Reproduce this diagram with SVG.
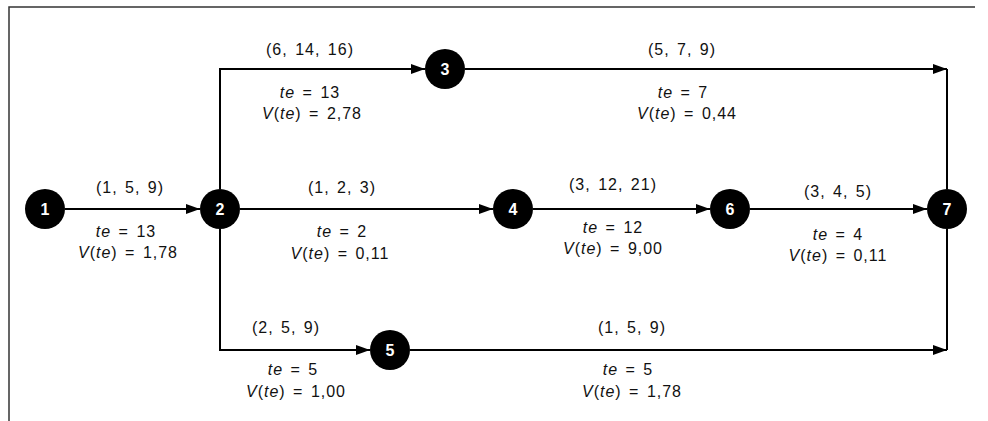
<svg xmlns="http://www.w3.org/2000/svg" width="988" height="421" viewBox="0 0 988 421">
<style>
.frame{stroke:#333;stroke-width:1.5;fill:none}
.edge{stroke:#000;stroke-width:2;fill:none}
.node circle{fill:#000}
.node text{fill:#fff;font-family:"Liberation Sans",Arial,sans-serif;font-size:16px;font-weight:bold;text-anchor:middle}
.lbl{fill:#111;font-family:"Liberation Sans",Arial,sans-serif;font-size:16px;letter-spacing:1px;word-spacing:2px;text-anchor:middle}
.i{font-style:italic}
</style>
<defs>
<marker id="ah" viewBox="0 0 14 10" refX="14" refY="5" markerWidth="14" markerHeight="10" markerUnits="userSpaceOnUse" orient="auto">
<path d="M0,0 L14,5 L0,10 Z" fill="#000"/>
</marker>
</defs>
<rect width="988" height="421" fill="#fff"/>
<path class="frame" d="M9,421 V7 H975"/>
<g id="connectors">
<path class="edge" d="M65,209 H200" marker-end="url(#ah)"/>
<path class="edge" d="M220,189 V69 H425" marker-end="url(#ah)"/>
<path class="edge" d="M465,69 H947" marker-end="url(#ah)"/>
<path class="edge" d="M947,69 V189"/>
<path class="edge" d="M240,209 H493" marker-end="url(#ah)"/>
<path class="edge" d="M533,209 H710" marker-end="url(#ah)"/>
<path class="edge" d="M750,209 H927" marker-end="url(#ah)"/>
<path class="edge" d="M220,229 V351"/>
<path class="edge" d="M221,350 H370" marker-end="url(#ah)"/>
<path class="edge" d="M410,350 H947" marker-end="url(#ah)"/>
<path class="edge" d="M947,350 V229"/>
</g>
<g id="n1" class="node"><circle cx="45" cy="209" r="20"/><text x="45" y="215">1</text></g>
<g id="n2" class="node"><circle cx="220" cy="209" r="20"/><text x="220" y="215">2</text></g>
<g id="n3" class="node"><circle cx="445" cy="69" r="20"/><text x="445" y="75">3</text></g>
<g id="n4" class="node"><circle cx="513" cy="209" r="20"/><text x="513" y="215">4</text></g>
<g id="n5" class="node"><circle cx="390" cy="350" r="20"/><text x="390" y="356">5</text></g>
<g id="n6" class="node"><circle cx="730" cy="209" r="20"/><text x="730" y="215">6</text></g>
<g id="n7" class="node"><circle cx="947" cy="209" r="20"/><text x="947" y="215">7</text></g>
<g id="labels">
<text class="lbl" x="130" y="193">(1, 5, 9)</text>
<text class="lbl" x="126" y="237"><tspan class="i">te</tspan> = 13</text>
<text class="lbl" x="128" y="258"><tspan class="i">V</tspan>(<tspan class="i">te</tspan>) = 1,78</text>

<text class="lbl" x="310" y="55">(6, 14, 16)</text>
<text class="lbl" x="310" y="98"><tspan class="i">te</tspan> = 13</text>
<text class="lbl" x="312" y="119"><tspan class="i">V</tspan>(<tspan class="i">te</tspan>) = 2,78</text>

<text class="lbl" x="682" y="55">(5, 7, 9)</text>
<text class="lbl" x="683" y="98"><tspan class="i">te</tspan> = 7</text>
<text class="lbl" x="687" y="119"><tspan class="i">V</tspan>(<tspan class="i">te</tspan>) = 0,44</text>

<text class="lbl" x="342" y="193">(1, 2, 3)</text>
<text class="lbl" x="342" y="237"><tspan class="i">te</tspan> = 2</text>
<text class="lbl" x="340" y="259"><tspan class="i">V</tspan>(<tspan class="i">te</tspan>) = 0,11</text>

<text class="lbl" x="613" y="190">(3, 12, 21)</text>
<text class="lbl" x="613" y="233"><tspan class="i">te</tspan> = 12</text>
<text class="lbl" x="613" y="254"><tspan class="i">V</tspan>(<tspan class="i">te</tspan>) = 9,00</text>

<text class="lbl" x="838" y="197">(3, 4, 5)</text>
<text class="lbl" x="838" y="240"><tspan class="i">te</tspan> = 4</text>
<text class="lbl" x="838" y="261"><tspan class="i">V</tspan>(<tspan class="i">te</tspan>) = 0,11</text>

<text class="lbl" x="286" y="333">(2, 5, 9)</text>
<text class="lbl" x="293" y="375"><tspan class="i">te</tspan> = 5</text>
<text class="lbl" x="296" y="397"><tspan class="i">V</tspan>(<tspan class="i">te</tspan>) = 1,00</text>

<text class="lbl" x="632" y="333">(1, 5, 9)</text>
<text class="lbl" x="628" y="375"><tspan class="i">te</tspan> = 5</text>
<text class="lbl" x="632" y="397"><tspan class="i">V</tspan>(<tspan class="i">te</tspan>) = 1,78</text>
</g>
</svg>
